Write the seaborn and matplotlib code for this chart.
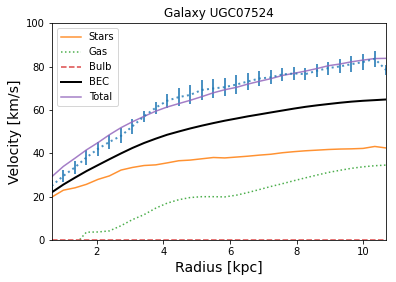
import matplotlib
matplotlib.use('Agg')
import matplotlib.pyplot as plt
import seaborn as sns

#########################
#         Data          #
#########################

galaxy = 'UGC07524'

radius = [0.65, 1.00, 1.35, 1.69, 2.04, 2.38, 2.73, 3.07, 3.42, 3.77,
          4.11, 4.46, 4.80, 5.15, 5.50, 5.84, 6.19, 6.53, 6.88, 7.22,
          7.57, 7.92, 8.26, 8.61, 8.95, 9.30, 9.64, 9.99, 10.34, 10.68]

v_obs = [25.0, 29.6, 33.6, 38.1, 42.1, 45.3, 48.1, 52.5, 57.1, 61.1,
         64.3, 66.0, 67.0, 69.3, 70.0, 70.6, 71.8, 73.2, 74.6, 75.1,
         76.5, 76.9, 76.6, 78.2, 79.4, 80.2, 81.2, 82.2, 83.7, 78.5]

v_err = [2.5, 2.7, 2.9, 3.5, 3.2, 3.1, 3.5, 3.4, 2.7, 2.7,
         3.3, 4.0, 4.4, 4.5, 4.3, 4.2, 4.2, 3.8, 3.4, 3.2,
         3.0, 2.9, 2.7, 2.9, 3.0, 3.2, 3.7, 3.8, 3.8, 2.5]

v_stars = [19.8, 23.0, 24.1, 25.7, 28.0, 29.6, 32.3, 33.5, 34.4, 34.7,
           35.6, 36.6, 36.9, 37.5, 38.1, 37.9, 38.3, 38.7, 39.2, 39.6,
           40.3, 40.8, 41.2, 41.5, 41.8, 42.0, 42.1, 42.3, 43.2, 42.5]

v_gas = [-6.0, -4.0, -2.2, 3.6, 3.7, 4.2, 6.6, 9.4, 11.7, 14.7,
         17.0, 18.6, 19.6, 20.0, 20.0, 19.9, 20.7, 21.9, 23.3, 24.7,
         26.0, 27.4, 28.7, 30.0, 31.2, 32.2, 33.1, 33.8, 34.3, 34.6]

v_bulb = [0.0] * 30

v_bec = [22.0, 25.6, 28.8, 31.8, 34.6, 37.3, 40.0, 42.5, 44.8, 46.8,
         48.6, 50.1, 51.5, 52.8, 54.0, 55.1, 56.1, 57.1, 58.0, 58.9,
         59.8, 60.7, 61.5, 62.2, 62.8, 63.4, 63.9, 64.3, 64.6, 64.9]

v_total = [29.2, 34.0, 37.8, 41.6, 45.0, 48.6, 51.9, 54.6, 57.1, 59.5,
           61.4, 63.0, 64.5, 66.2, 68.0, 69.4, 70.5, 72.0, 73.3, 74.5,
           76.0, 77.0, 78.0, 79.2, 80.5, 81.3, 82.3, 83.1, 83.8, 83.9]

##########################
#   Plotting the data    #
##########################

fig, ax = plt.subplots(figsize=(5.5, 282 / 72), dpi=72)
fig.subplots_adjust(left=0.1306, right=0.975, top=0.9167, bottom=0.149)

ax.errorbar(radius, v_obs, yerr=v_err, fmt=':', color='C0', lw=2, elinewidth=2, alpha=0.8)

sns.lineplot(x=radius, y=v_stars, ax=ax, color='C1', label='Stars', lw=1.5, alpha=0.85)
sns.lineplot(x=radius, y=v_gas, ax=ax, color='C2', label='Gas', linestyle=':', lw=1.5, alpha=0.85)
sns.lineplot(x=radius, y=v_bulb, ax=ax, color='C3', label='Bulb', linestyle='--', lw=1.5, alpha=0.85)
sns.lineplot(x=radius, y=v_bec, ax=ax, color='black', label='BEC', lw=2)
sns.lineplot(x=radius, y=v_total, ax=ax, color='C4', label='Total', lw=1.5, alpha=0.85)

ax.set_xlim(radius[0], radius[-1])
ax.set_ylim(0, 100)
ax.set_title(f'Galaxy {galaxy}', fontsize=12)
ax.set_xlabel('Radius [kpc]', fontsize=14)
ax.set_ylabel('Velocity [km/s]', fontsize=14)
ax.tick_params(labelsize=10)
ax.legend(loc='upper left', fontsize=10)

plt.savefig('out.png', dpi=72)
